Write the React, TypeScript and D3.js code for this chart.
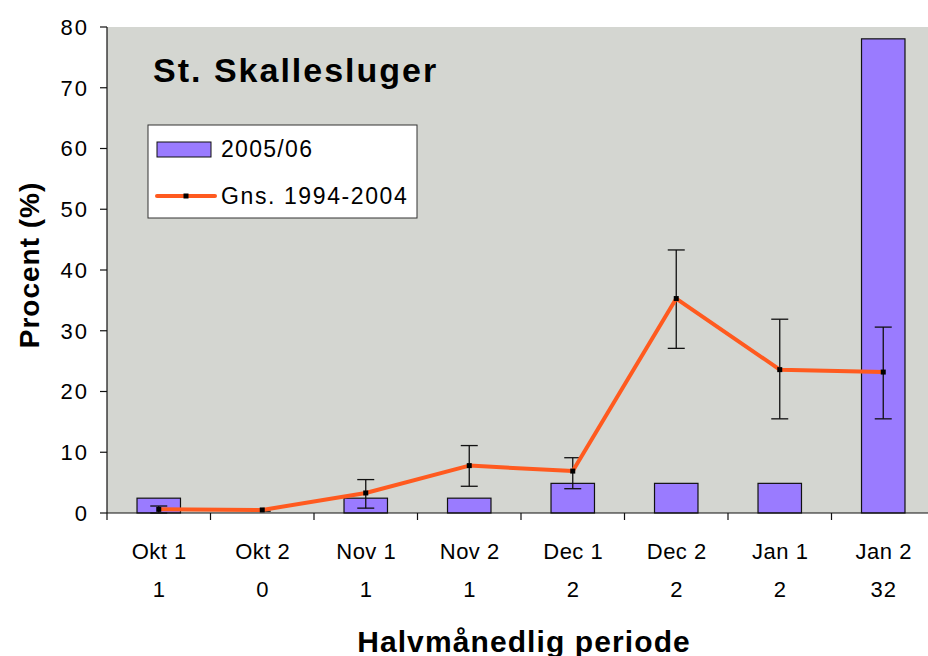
import React from "react";
import * as d3 from "d3";

// periods and counts (n) from the picture
const periods = ["Okt 1", "Okt 2", "Nov 1", "Nov 2", "Dec 1", "Dec 2", "Jan 1", "Jan 2"];
const counts = ["1", "0", "1", "1", "2", "2", "2", "32"];
// 2005/06 percent per period
const season = [2.44, 0, 2.44, 2.44, 4.88, 4.88, 4.88, 78.05];
// mean 1994-2004 and its error range
const mean = [0.6, 0.5, 3.3, 7.8, 6.9, 35.3, 23.6, 23.2];
const errLow = [0, 0.3, 0.8, 4.4, 4.0, 27.1, 15.5, 15.5];
const errHigh = [1.15, 0.7, 5.5, 11.1, 9.1, 43.3, 31.9, 30.6];
const yTicks = [0, 10, 20, 30, 40, 50, 60, 70, 80];

const W = 928;
const H = 656;
const left = 107;
const right = 935;
const top = 27;
const bottom = 513;
const font = "'Liberation Sans', Arial, sans-serif";

export default function App() {
  const x = d3.scaleBand<string>().domain(periods).range([left, right]).paddingInner(0).paddingOuter(0);
  const y = d3.scaleLinear().domain([0, 80]).range([bottom, top]);
  const bw = x.bandwidth() * 0.42;
  const cx = (i: number) => (x(periods[i]) as number) + x.bandwidth() / 2;
  const line = d3.line<number>().x((_, i) => cx(i)).y((d) => y(d));

  return (
    <svg width={W} height={H} style={{ position: "absolute", left: 0, top: 0 }} fontFamily={font}>
      <rect x={0} y={0} width={W} height={H} fill="#fff" />
      <rect x={left} y={top} width={right - left} height={bottom - top} fill="#d4d6d1" />

      {/* bars */}
      {season.map((v, i) =>
        v > 0 ? (
          <rect key={i} x={cx(i) - bw / 2} y={y(v)} width={bw} height={bottom - y(v)}
            fill="#9a7bff" stroke="#111" strokeWidth={1.2} />
        ) : null
      )}

      {/* error bars */}
      {mean.map((_, i) => (
        <g key={i} stroke="#111" strokeWidth={1.3}>
          <line x1={cx(i)} x2={cx(i)} y1={y(errLow[i])} y2={y(errHigh[i])} />
          <line x1={cx(i) - 8.5} x2={cx(i) + 8.5} y1={y(errHigh[i])} y2={y(errHigh[i])} />
          <line x1={cx(i) - 8.5} x2={cx(i) + 8.5} y1={y(errLow[i])} y2={y(errLow[i])} />
        </g>
      ))}

      <path d={line(mean) ?? ""} fill="none" stroke="#ff5a1f" strokeWidth={4} strokeLinejoin="round" />
      {mean.map((v, i) => (
        <rect key={i} x={cx(i) - 2.5} y={y(v) - 2.5} width={5} height={5} fill="#000" />
      ))}

      {/* axes */}
      <line x1={left} x2={left} y1={top} y2={bottom} stroke="#111" strokeWidth={1.2} />
      <line x1={left} x2={right} y1={bottom} y2={bottom} stroke="#111" strokeWidth={1.2} />
      {yTicks.map((t) => (
        <g key={t}>
          <line x1={left - 7} x2={left} y1={y(t)} y2={y(t)} stroke="#111" strokeWidth={1.2} />
          <text x={89} y={y(t)} dy="0.36em" textAnchor="end" fontSize={22} letterSpacing={2}>{t}</text>
        </g>
      ))}
      {periods.map((p, i) => (
        <g key={p}>
          <line x1={x(p) as number} x2={x(p) as number} y1={bottom} y2={bottom + 7} stroke="#111" strokeWidth={1.2} />
          <text x={cx(i) + 0.5} y={559} textAnchor="middle" fontSize={22} letterSpacing={0.5}>{p}</text>
          <text x={cx(i) + 0.5} y={597} textAnchor="middle" fontSize={22} letterSpacing={1}>{counts[i]}</text>
        </g>
      ))}

      <text transform={`translate(39,265) rotate(-90)`} textAnchor="middle" fontSize={28} fontWeight="bold" letterSpacing={1}>
        Procent (%)
      </text>
      <text x={524} y={652} textAnchor="middle" fontSize={30} fontWeight="bold" letterSpacing={1.1}>
        Halvmånedlig periode
      </text>
      <text x={153} y={82} fontSize={34} fontWeight="bold" letterSpacing={2}>St. Skallesluger</text>

      {/* legend */}
      <rect x={148} y={125} width={269} height={93} fill="#fff" stroke="#333" strokeWidth={1} />
      <rect x={157} y={142} width={54} height={15} fill="#9a7bff" stroke="#111" strokeWidth={1} />
      <text x={221} y={157} fontSize={23} letterSpacing={1.3}>2005/06</text>
      <line x1={157} x2={215} y1={196} y2={196} stroke="#ff5a1f" strokeWidth={4} strokeLinecap="round" />
      <rect x={183.5} y={193.5} width={5} height={5} fill="#000" />
      <text x={221} y={204} fontSize={23} letterSpacing={1.6}>Gns. 1994-2004</text>
    </svg>
  );
}
